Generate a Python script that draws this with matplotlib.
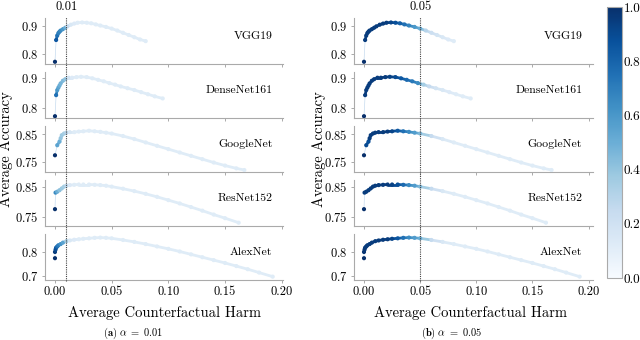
import matplotlib
matplotlib.use("Agg")
import matplotlib.pyplot as plt
import matplotlib.transforms as mtransforms
from matplotlib.collections import LineCollection
from matplotlib.lines import Line2D
from matplotlib.ticker import FormatStrFormatter
import numpy as np

plt.rcParams.update({
    "font.family": "serif",
    "font.serif": ["cmr10"],
    "mathtext.fontset": "cm",
    "axes.formatter.use_mathtext": True,
    "axes.unicode_minus": False,
})

MODELS = ["VGG19", "DenseNet161", "GoogleNet", "ResNet152", "AlexNet"]
ALPHAS = [0.01, 0.05]
XTICKS = [0.0, 0.05, 0.10, 0.15, 0.20]
YTICKS = {"VGG19": [0.8, 0.9], "DenseNet161": [0.8, 0.9], "GoogleNet": [0.75, 0.85],
          "ResNet152": [0.75, 0.85], "AlexNet": [0.7, 0.8]}

# harm / accuracy curves, plus colour value per point for each alpha
VGG_H = [0.000, 0.001, 0.002, 0.003, 0.004, 0.005, 0.007, 0.009, 0.011, 0.014, 0.017, 0.020, 0.024,
         0.028, 0.032, 0.036, 0.040, 0.045, 0.050, 0.055, 0.060, 0.065, 0.070, 0.075, 0.080]
VGG_A = [0.772, 0.850, 0.866, 0.875, 0.880, 0.884, 0.889, 0.894, 0.899, 0.905, 0.909, 0.912, 0.913,
         0.912, 0.910, 0.906, 0.902, 0.897, 0.891, 0.884, 0.876, 0.868, 0.860, 0.852, 0.846]
VGG_C01 = [1.00, 0.85, 0.75, 0.70, 0.68, 0.65, 0.60, 0.50, 0.25, 0.15, 0.13, 0.12, 0.12,
           0.12, 0.12, 0.12, 0.12, 0.12, 0.12, 0.12, 0.12, 0.12, 0.12, 0.12, 0.12]
VGG_C05 = [1.00, 0.95, 0.95, 0.95, 0.95, 0.95, 0.95, 0.95, 0.95, 0.95, 0.95, 0.95, 0.92,
           0.88, 0.82, 0.75, 0.68, 0.60, 0.50, 0.30, 0.22, 0.18, 0.15, 0.13, 0.12]

DEN_H = [0.000, 0.001, 0.002, 0.003, 0.004, 0.005, 0.007, 0.009, 0.012, 0.015, 0.019, 0.023, 0.028,
         0.033, 0.038, 0.043, 0.048, 0.053, 0.058, 0.064, 0.070, 0.076, 0.082, 0.088, 0.095]
DEN_A = [0.773, 0.843, 0.860, 0.868, 0.875, 0.882, 0.891, 0.896, 0.901, 0.901, 0.903, 0.904, 0.903,
         0.899, 0.894, 0.889, 0.883, 0.878, 0.872, 0.866, 0.860, 0.853, 0.846, 0.839, 0.832]
DEN_C01 = [1.00, 0.75, 0.60, 0.55, 0.50, 0.48, 0.45, 0.40, 0.18, 0.13, 0.12, 0.12, 0.12,
           0.12, 0.12, 0.12, 0.12, 0.12, 0.12, 0.12, 0.12, 0.12, 0.12, 0.12, 0.12]
DEN_C05 = [1.00, 0.95, 0.95, 0.95, 0.95, 0.95, 0.95, 0.95, 0.95, 0.95, 0.95, 0.93, 0.90,
           0.85, 0.78, 0.72, 0.65, 0.35, 0.25, 0.18, 0.15, 0.13, 0.12, 0.12, 0.12]

GOO_H = [0.000, 0.002, 0.004, 0.005, 0.006, 0.008, 0.010, 0.013, 0.017, 0.021, 0.025, 0.030, 0.035, 0.040,
         0.045, 0.050, 0.060, 0.070, 0.080, 0.090, 0.100, 0.110, 0.120, 0.130, 0.140, 0.150, 0.160, 0.167]
GOO_A = [0.774, 0.810, 0.823, 0.835, 0.846, 0.852, 0.855, 0.857, 0.857, 0.859, 0.860, 0.862, 0.860, 0.858,
         0.855, 0.852, 0.843, 0.832, 0.820, 0.808, 0.796, 0.784, 0.772, 0.760, 0.748, 0.737, 0.727, 0.721]
GOO_C01 = [1.00, 0.55, 0.50, 0.40, 0.38, 0.35, 0.30, 0.15, 0.12, 0.12, 0.12, 0.12, 0.12, 0.12,
           0.12, 0.12, 0.12, 0.12, 0.12, 0.12, 0.12, 0.12, 0.12, 0.12, 0.12, 0.12, 0.12, 0.12]
GOO_C05 = [1.00, 0.90, 0.88, 0.95, 0.95, 0.95, 0.95, 0.95, 0.95, 0.95, 0.92, 0.85, 0.75, 0.65,
           0.58, 0.45, 0.25, 0.15, 0.12, 0.12, 0.12, 0.12, 0.12, 0.12, 0.12, 0.12, 0.12, 0.12]

RES_H = [0.000, 0.0005, 0.002, 0.004, 0.006, 0.008, 0.010, 0.013, 0.017, 0.021, 0.025, 0.030, 0.035, 0.040,
         0.045, 0.050, 0.060, 0.070, 0.080, 0.090, 0.100, 0.110, 0.120, 0.130, 0.140, 0.150, 0.162]
RES_A = [0.776, 0.831, 0.834, 0.839, 0.845, 0.851, 0.854, 0.856, 0.857, 0.858, 0.858, 0.858, 0.857, 0.856,
         0.854, 0.851, 0.844, 0.836, 0.827, 0.817, 0.806, 0.795, 0.783, 0.771, 0.758, 0.746, 0.731]
RES_C01 = [1.00, 0.65, 0.50, 0.42, 0.38, 0.35, 0.28, 0.14, 0.12, 0.12, 0.12, 0.12, 0.12, 0.12,
           0.12, 0.12, 0.12, 0.12, 0.12, 0.12, 0.12, 0.12, 0.12, 0.12, 0.12, 0.12, 0.12]
RES_C05 = [1.00, 0.95, 0.95, 0.95, 0.95, 0.95, 0.95, 0.95, 0.95, 0.95, 0.93, 0.88, 0.78, 0.66,
           0.58, 0.45, 0.25, 0.15, 0.12, 0.12, 0.12, 0.12, 0.12, 0.12, 0.12, 0.12, 0.12]

ALX_H = [0.000, 0.000, 0.0005, 0.001, 0.002, 0.003, 0.005, 0.007, 0.010, 0.013, 0.017, 0.021, 0.025, 0.030,
         0.035, 0.040, 0.045, 0.050, 0.060, 0.070, 0.080, 0.090, 0.100, 0.110, 0.120, 0.130, 0.140, 0.150,
         0.160, 0.170, 0.180, 0.192]
ALX_A = [0.774, 0.800, 0.810, 0.818, 0.823, 0.828, 0.833, 0.839, 0.845, 0.848, 0.851, 0.853, 0.855, 0.857,
         0.859, 0.860, 0.859, 0.857, 0.850, 0.842, 0.833, 0.823, 0.813, 0.802, 0.790, 0.778, 0.766, 0.754,
         0.741, 0.728, 0.714, 0.697]
ALX_C01 = [1.00, 0.95, 0.90, 0.85, 0.75, 0.70, 0.62, 0.55, 0.35, 0.15, 0.13, 0.12, 0.12, 0.12,
           0.12, 0.12, 0.12, 0.12, 0.12, 0.12, 0.12, 0.12, 0.12, 0.12, 0.12, 0.12, 0.12, 0.12,
           0.12, 0.12, 0.12, 0.12]
ALX_C05 = [1.00, 0.98, 0.97, 0.96, 0.95, 0.95, 0.95, 0.95, 0.95, 0.95, 0.95, 0.95, 0.92, 0.85,
           0.75, 0.65, 0.58, 0.50, 0.25, 0.15, 0.12, 0.12, 0.12, 0.12, 0.12, 0.12, 0.12, 0.12,
           0.12, 0.12, 0.12, 0.12]

CURVES = {
    "VGG19": (VGG_H, VGG_A, VGG_C01, VGG_C05),
    "DenseNet161": (DEN_H, DEN_A, DEN_C01, DEN_C05),
    "GoogleNet": (GOO_H, GOO_A, GOO_C01, GOO_C05),
    "ResNet152": (RES_H, RES_A, RES_C01, RES_C05),
    "AlexNet": (ALX_H, ALX_A, ALX_C01, ALX_C05),
}

# layout (pixels of a 640x340 canvas)
W, H = 640, 340
ROW_TOP = [18, 72, 126, 180, 234]
ROW_H = 46
PANEL_X = [45, 354]
PANEL_W = [238, 239]
YLABEL_X = [6, 319]
XLIMS = [(-0.0088, 0.2011), (-0.0089, 0.2039)]
YLIMS = {"VGG19": (0.764, 0.929), "DenseNet161": (0.767, 0.920), "GoogleNet": (0.714, 0.879),
         "ResNet152": (0.720, 0.873), "AlexNet": (0.683, 0.875)}
SPINE = "#aaaaaa"
cmap = plt.cm.Blues


def px(x0, y0, w, h):
    return [x0 / W, 1 - (y0 + h) / H, w / W, h / H]


fig = plt.figure(figsize=(6.4, 3.4), dpi=100)

for p, alpha in enumerate(ALPHAS):
    axes = []
    for r, name in enumerate(MODELS):
        ax = fig.add_axes(px(PANEL_X[p], ROW_TOP[r], PANEL_W[p], ROW_H))
        axes.append(ax)
        h, a, c01, c05 = CURVES[name]
        c = np.array(c01 if p == 0 else c05)
        h = np.array(h)
        a = np.array(a)
        ax.plot(h, a, color="#c6dbef", lw=0.5, zorder=1)
        pts = np.column_stack([h, a])
        segs = np.stack([pts[1:-1], pts[2:]], axis=1)
        lc = LineCollection(segs, colors=cmap((c[1:-1] + c[2:]) / 2), linewidths=2.0,
                            capstyle="round", zorder=2)
        ax.add_collection(lc)
        ax.scatter(h, a, c=c, cmap=cmap, vmin=0, vmax=1, s=9, linewidths=0, zorder=3)

        ax.set_xlim(*XLIMS[p])
        ax.set_ylim(*YLIMS[name])
        ax.set_xticks(XTICKS)
        ax.set_yticks(YTICKS[name])
        ax.xaxis.set_major_formatter(FormatStrFormatter("%.2f"))
        if r < len(MODELS) - 1:
            ax.tick_params(axis="x", labelbottom=False)
        ax.tick_params(labelsize=9, length=2.5, width=0.7, color=SPINE, pad=2)
        for s in ["top", "right"]:
            ax.spines[s].set_visible(False)
        for s in ["left", "bottom"]:
            ax.spines[s].set_color(SPINE)
            ax.spines[s].set_linewidth(0.8)
        ax.text(0.955, 0.6, name, transform=ax.transAxes, ha="right", va="center", fontsize=8.5)

    # dotted threshold line spanning all rows
    trans = mtransforms.blended_transform_factory(axes[-1].transData, fig.transFigure)
    fig.add_artist(Line2D([alpha, alpha], [1 - 281 / H, 1 - 17 / H], transform=trans,
                          color="#444444", lw=0.8, ls=(0, (1, 1))))
    fig.text(alpha, 1 - 7 / H, f"{alpha:.2f}", transform=trans, ha="center", va="center", fontsize=9)

    fig.text(YLABEL_X[p] / W, 1 - 149 / H, "Average Accuracy", rotation=90,
             ha="center", va="center", fontsize=10.5)

fig.text(165 / W, 1 - 313 / H, "Average Counterfactual Harm", ha="center", va="center", fontsize=10.5)
fig.text(470 / W, 1 - 313 / H, "Average Counterfactual Harm", ha="center", va="center", fontsize=10.5)
fig.text(133 / W, 1 - 333 / H, r"$\mathbf{(a)}\ \alpha\ \mathbf{=\ 0.01}$", ha="center", va="center", fontsize=7.5)
fig.text(452 / W, 1 - 333 / H, r"$\mathbf{(b)}\ \alpha\ \mathbf{=\ 0.05}$", ha="center", va="center", fontsize=7.5)

cax = fig.add_axes(px(607, 7, 15, 271))
sm = plt.cm.ScalarMappable(cmap=cmap, norm=plt.Normalize(0, 1))
cb = fig.colorbar(sm, cax=cax, ticks=[0.0, 0.2, 0.4, 0.6, 0.8, 1.0])
cb.ax.yaxis.set_major_formatter(FormatStrFormatter("%.1f"))
cb.ax.tick_params(labelsize=9.5, length=0, pad=1)
cb.outline.set_edgecolor(SPINE)
cb.outline.set_linewidth(0.8)

fig.savefig("out.png", dpi=100)
